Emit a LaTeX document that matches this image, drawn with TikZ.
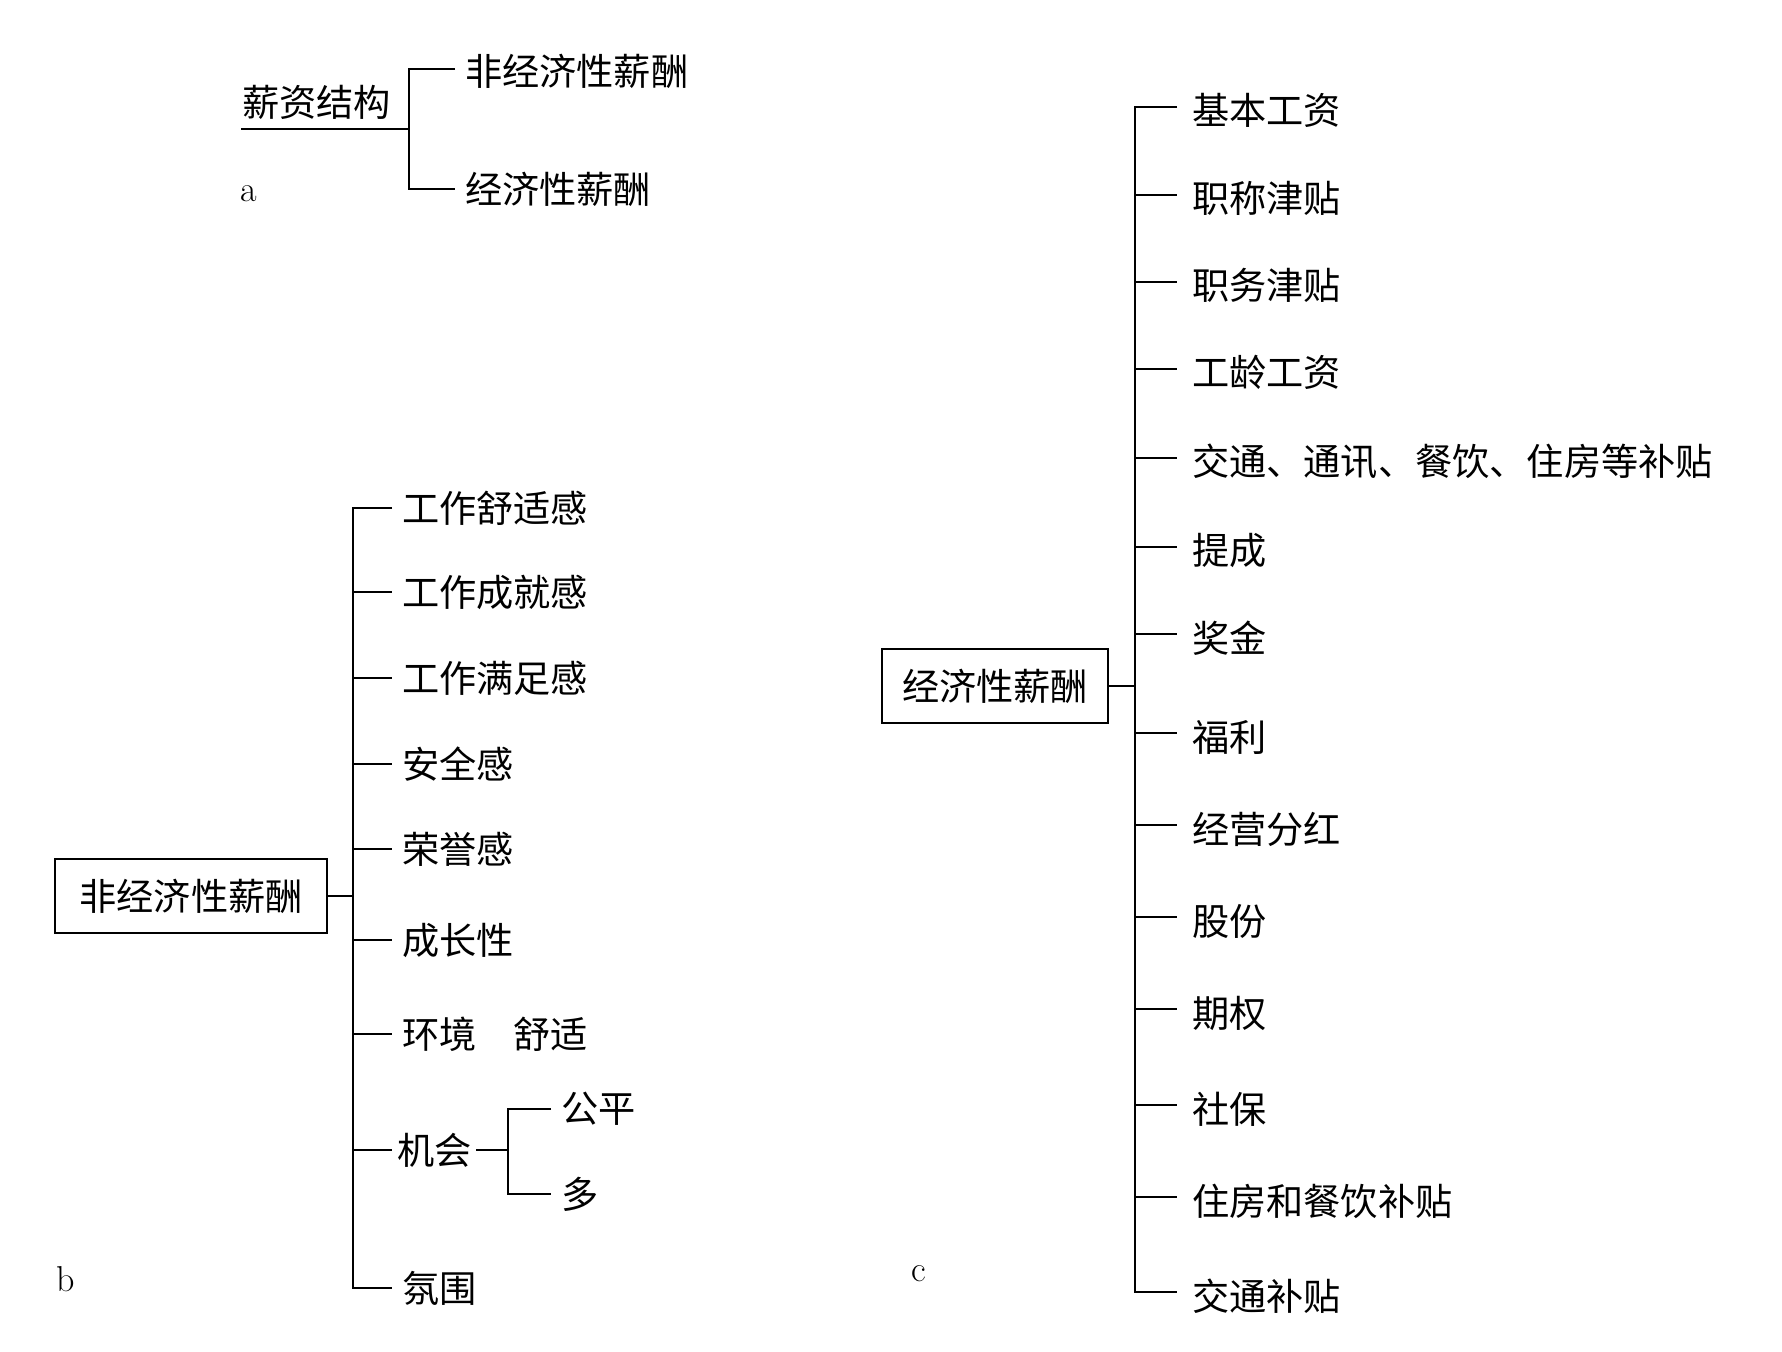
\documentclass[tikz,border=0pt]{standalone}
\usepackage{fontspec}
\newfontfamily\cjkfont{Noto Sans CJK SC}
\tikzset{
  leaf/.style={anchor=west, inner xsep=4.5pt, inner ysep=0pt,
    font=\cjkfont\fontsize{18.6pt}{22pt}\selectfont},
  lowleaf/.style={leaf, inner xsep=7pt, text height=21pt, text depth=3pt},
  boxnode/.style={draw, minimum height=37pt, inner sep=0pt,
    font=\cjkfont\fontsize{18.6pt}{22pt}\selectfont},
  tag/.style={font=\fontsize{18pt}{21pt}\selectfont}
}
\begin{document}
\begin{tikzpicture}[x=0.5pt, y=-0.5pt, line width=1pt]
\useasboundingbox (0,0) rectangle (1782,1352);
% a : 薪资结构
\node[leaf, inner xsep=0pt] (xzjg) at (241,102) {薪资结构};
\coordinate (abus) at (409,129);
\node[leaf, text height=20pt, text depth=3pt] (a1) at (455,69) {非经济性薪酬};
\node[leaf] (a2) at (455,189) {经济性薪酬};
\draw (xzjg.west |- abus) -- (abus);
\draw (a1.west) -| (abus) |- (a2.west);
\node[tag] (la) at (249,194) {a};
%
% b : 非经济性薪酬
\node[boxnode, minimum width=136pt] (fjj) at (191,896) {非经济性薪酬};
\coordinate (bbus) at (353,896);
\node[leaf] (b1) at (392,508) {工作舒适感};
\node[leaf] (b2) at (392,592) {工作成就感};
\node[leaf] (b3) at (392,678) {工作满足感};
\node[leaf] (b4) at (392,764) {安全感};
\node[leaf] (b5) at (392,849) {荣誉感};
\node[leaf] (b6) at (392,940) {成长性};
\node[leaf] (b7) at (392,1034) {环境　舒适};
\node[leaf, inner xsep=2pt] (b8) at (392,1150) {机会};
\node[leaf] (b9) at (392,1288) {氛围};
\draw (fjj.east) -- (bbus);
\draw (b1.west) -| (bbus) |- (b9.west);
\draw (bbus |- b2.west) -- (b2.west);
\draw (bbus |- b3.west) -- (b3.west);
\draw (bbus |- b4.west) -- (b4.west);
\draw (bbus |- b5.west) -- (b5.west);
\draw (bbus |- b6.west) -- (b6.west);
\draw (bbus |- b7.west) -- (b7.west);
\draw (bbus |- b8.west) -- (b8.west);
% 机会
\coordinate (jbus) at (508,1150);
\node[leaf] (j1) at (551,1109) {公平};
\node[leaf] (j2) at (551,1194) {多};
\draw (b8.east) -- (jbus);
\draw (j1.west) -| (jbus) |- (j2.west);
\node[tag] (lb) at (66,1279) {b};
%
% c : 经济性薪酬
\node[boxnode, minimum width=113pt] (jj) at (995,686) {经济性薪酬};
\coordinate (cbus) at (1135,686);
\node[lowleaf] (c1) at (1177,107) {基本工资};
\node[lowleaf] (c2) at (1177,195) {职称津贴};
\node[lowleaf] (c3) at (1177,282) {职务津贴};
\node[lowleaf] (c4) at (1177,369) {工龄工资};
\node[lowleaf] (c5) at (1177,458) {交通、通讯、餐饮、住房等补贴};
\node[lowleaf] (c6) at (1177,547) {提成};
\node[lowleaf] (c7) at (1177,634) {奖金};
\node[lowleaf] (c8) at (1177,733) {福利};
\node[lowleaf] (c9) at (1177,825) {经营分红};
\node[lowleaf] (c10) at (1177,917) {股份};
\node[lowleaf] (c11) at (1177,1009) {期权};
\node[lowleaf] (c12) at (1177,1105) {社保};
\node[lowleaf] (c13) at (1177,1197) {住房和餐饮补贴};
\node[lowleaf] (c14) at (1177,1292) {交通补贴};
\draw (jj.east) -- (cbus);
\draw (c1.west) -| (cbus) |- (c14.west);
\draw (cbus |- c2.west) -- (c2.west);
\draw (cbus |- c3.west) -- (c3.west);
\draw (cbus |- c4.west) -- (c4.west);
\draw (cbus |- c5.west) -- (c5.west);
\draw (cbus |- c6.west) -- (c6.west);
\draw (cbus |- c7.west) -- (c7.west);
\draw (cbus |- c8.west) -- (c8.west);
\draw (cbus |- c9.west) -- (c9.west);
\draw (cbus |- c10.west) -- (c10.west);
\draw (cbus |- c11.west) -- (c11.west);
\draw (cbus |- c12.west) -- (c12.west);
\draw (cbus |- c13.west) -- (c13.west);
\node[tag] (lc) at (919,1274) {c};
\end{tikzpicture}
\end{document}
